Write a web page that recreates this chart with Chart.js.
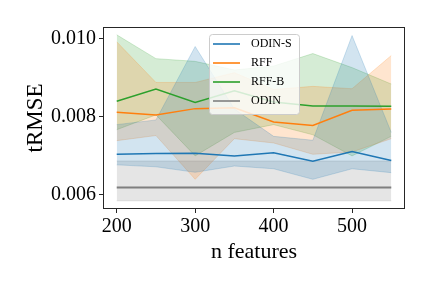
<!DOCTYPE html>
<html>
<head>
<meta charset="utf-8">
<script src="https://cdn.jsdelivr.net/npm/chart.js@4.4.1/dist/chart.umd.min.js"></script>
<style>
  html, body { margin: 0; padding: 0; background: #fff; }
  #wrap { width: 432px; height: 288px; }
</style>
</head>
<body>
<div id="wrap"><canvas id="tRmseChart" width="432" height="288"></canvas></div>
<script>
const nFeatures = [200, 250, 300, 350, 400, 450, 500, 550];

const odinSMean  = [0.00704, 0.00706, 0.00707, 0.00700, 0.00708, 0.00686, 0.00711, 0.00688];
const odinSUpper = [0.00780, 0.00792, 0.00980, 0.00820, 0.00750, 0.00740, 0.01008, 0.00760];
const odinSLower = [0.00677, 0.00672, 0.00658, 0.00674, 0.00667, 0.00640, 0.00667, 0.00657];

const rffMean  = [0.00812, 0.00805, 0.00821, 0.00823, 0.00787, 0.00778, 0.00817, 0.00820];
const rffUpper = [0.00992, 0.00888, 0.00888, 0.00913, 0.00870, 0.00878, 0.00872, 0.00957];
const rffLower = [0.00739, 0.00752, 0.00640, 0.00744, 0.00733, 0.00704, 0.00710, 0.00744];

const rffBMean  = [0.00840, 0.00871, 0.00837, 0.00867, 0.00838, 0.00828, 0.00828, 0.00827];
const rffBUpper = [0.01010, 0.00949, 0.00942, 0.00920, 0.00930, 0.00962, 0.00926, 0.00884];
const rffBLower = [0.00767, 0.00805, 0.00700, 0.00760, 0.00780, 0.00754, 0.00700, 0.00750];

const odinMean  = [0.00619, 0.00619, 0.00619, 0.00619, 0.00619, 0.00619, 0.00619, 0.00619];
const odinUpper = [0.00687, 0.00687, 0.00687, 0.00687, 0.00687, 0.00687, 0.00687, 0.00687];
const odinLower = [0.00585, 0.00585, 0.00585, 0.00585, 0.00585, 0.00585, 0.00585, 0.00585];

const xTicks = [200, 300, 400, 500];
const yTicks = [0.006, 0.008, 0.010];

const seriesNames = ['ODIN-S', 'RFF', 'RFF-B', 'ODIN'];
const seriesRgb = ['31,119,180', '255,127,14', '44,160,44', '127,127,127'];

function pts(arr) {
  return nFeatures.map((x, i) => ({ x: x, y: arr[i] }));
}

const series = [
  { mean: odinSMean, upper: odinSUpper, lower: odinSLower },
  { mean: rffMean, upper: rffUpper, lower: rffLower },
  { mean: rffBMean, upper: rffBUpper, lower: rffBLower },
  { mean: odinMean, upper: odinUpper, lower: odinLower }
];

const datasets = [];
// bands first (pairs: upper filled down to the next dataset = lower)
series.forEach((s, k) => {
  const c = seriesRgb[k];
  datasets.push({
    label: seriesNames[k] + ' band',
    data: pts(s.upper),
    borderColor: 'rgba(' + c + ',0.2)',
    borderWidth: 1,
    backgroundColor: 'rgba(' + c + ',0.2)',
    fill: '+1',
    pointRadius: 0,
    tension: 0,
    order: 10
  });
  datasets.push({
    label: seriesNames[k] + ' low',
    data: pts(s.lower),
    borderColor: 'rgba(' + c + ',0.2)',
    borderWidth: 1,
    fill: false,
    pointRadius: 0,
    tension: 0,
    order: 10
  });
});
series.forEach((s, k) => {
  datasets.push({
    label: seriesNames[k],
    data: pts(s.mean),
    borderColor: 'rgb(' + seriesRgb[k] + ')',
    borderWidth: k === 3 ? 2 : 1.5,
    fill: false,
    pointRadius: 0,
    tension: 0,
    order: 0
  });
});

// box around the axes plus the legend inside it
const framePlugin = {
  id: 'frame',
  afterDraw(chart) {
    const ctx = chart.ctx;
    const a = chart.chartArea;
    ctx.save();
    ctx.strokeStyle = '#262626';
    ctx.lineWidth = 1;
    ctx.strokeRect(a.left + 0.5, a.top + 0.5, a.right - a.left - 1, a.bottom - a.top - 1);

    // legend
    const lx = a.left + 106, ly = a.top + 7, lw = 90, lh = 80;
    ctx.beginPath();
    ctx.roundRect(lx + 0.5, ly + 0.5, lw, lh, 3);
    ctx.fillStyle = 'rgba(255,255,255,0.8)';
    ctx.fill();
    ctx.strokeStyle = '#cccccc';
    ctx.stroke();
    ctx.font = '12px "Liberation Serif", "DejaVu Serif", serif';
    ctx.textBaseline = 'middle';
    seriesNames.forEach((name, i) => {
      const y = ly + 10 + i * 19;
      ctx.strokeStyle = 'rgba(' + seriesRgb[i] + ',0.8)';
      ctx.lineWidth = 2;
      ctx.beginPath();
      ctx.moveTo(lx + 4, y);
      ctx.lineTo(lx + 31, y);
      ctx.stroke();
      ctx.fillStyle = '#000';
      ctx.fillText(name, lx + 42, y);
    });
    ctx.restore();
  }
};

const serif = '"Liberation Serif", "DejaVu Serif", serif';

new Chart(document.getElementById('tRmseChart'), {
  type: 'line',
  data: { datasets: datasets },
  options: {
    responsive: false,
    animation: false,
    devicePixelRatio: 1,
    layout: { padding: { top: 27, right: 27, left: 0, bottom: 0 } },
    plugins: {
      legend: { display: false },
      tooltip: { enabled: false }
    },
    scales: {
      x: {
        type: 'linear',
        min: 182.5,
        max: 567.5,
        afterBuildTicks: s => { s.ticks = xTicks.map(v => ({ value: v })); },
        afterFit: s => { s.height = 79; },
        grid: { display: true, drawOnChartArea: false, drawTicks: true, tickLength: 4, color: '#262626' },
        border: { display: false },
        ticks: { color: '#000', font: { family: serif, size: 20 }, padding: 2, maxRotation: 0 },
        title: { display: true, text: 'n features', color: '#000', font: { family: serif, size: 22 }, padding: { bottom: 23 } }
      },
      y: {
        type: 'linear',
        min: 0.00564,
        max: 0.0103,
        afterBuildTicks: s => { s.ticks = yTicks.map(v => ({ value: v })); },
        afterFit: s => { s.width = 103; },
        grid: { display: true, drawOnChartArea: false, drawTicks: true, tickLength: 4, color: '#262626' },
        border: { display: false },
        ticks: { color: '#000', font: { family: serif, size: 20 }, padding: 3, callback: v => v.toFixed(3) },
        title: { display: true, text: 'tRMSE', color: '#000', font: { family: serif, size: 23 }, padding: { top: 22 } }
      }
    }
  },
  plugins: [framePlugin]
});
</script>
</body>
</html>
